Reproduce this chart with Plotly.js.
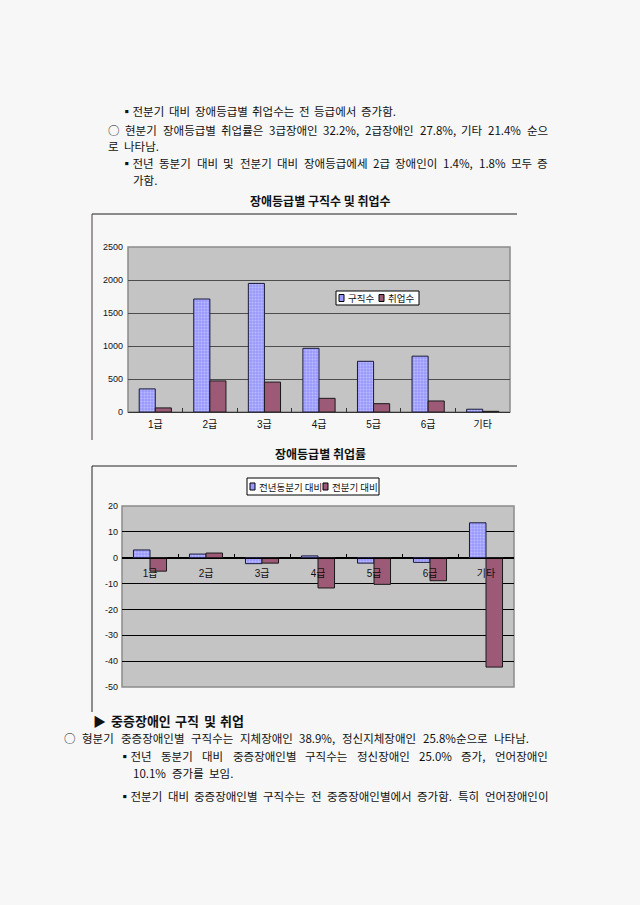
<!DOCTYPE html>
<html><head><meta charset="utf-8">
<script src="https://cdn.plot.ly/plotly-3.0.1.min.js"></script>
<style>html,body{margin:0;padding:0;background:#f7f7f7;}#chart{width:640px;height:905px;}</style>
</head><body><div id="chart"></div>
<script>
// ---------- data ----------
const grades = ['1급','2급','3급','4급','5급','6급','기타'];
const seekers = [350, 1712, 1948, 965, 768, 846, 42];
const employed = [62, 471, 453, 207, 126, 167, 10];
const seriesNames1 = ['구직수','취업수'];
const chart1Title = '장애등급별 구직수 및 취업수';
const y1Ticks = [0, 500, 1000, 1500, 2000, 2500];

const yoyChange = [3.0, 1.4, -2.3, 0.7, -2.1, -1.8, 13.5];
const qoqChange = [-5.2, 1.8, -2.1, -11.7, -10.3, -8.9, -42.3];
const seriesNames2 = ['전년동분기 대비','전분기 대비'];
const chart2Title = '장애등급별 취업률';
const y2Ticks = [20, 10, 0, -10, -20, -30, -40, -50];

const textTop = [
  '▪전분기 대비 장애등급별 취업수는 전 등급에서 증가함.',
  '○ 현분기 장애등급별 취업률은 3급장애인 32.2%, 2급장애인 27.8%, 기타 21.4% 순으',
  '로 나타남.',
  '▪전년 동분기 대비 및 전분기 대비 장애등급에세 2급 장애인이 1.4%, 1.8% 모두 증',
  '가함.'
];
const textBottom = [
  '▶ 중증장애인 구직 및 취업',
  '○ 형분기 중증장애인별 구직수는 지체장애인 38.9%, 정신지체장애인 25.8%순으로 나타남.',
  '▪전년 동분기 대비 중증장애인별 구직수는 정신장애인 25.0% 증가, 언어장애인',
  '10.1% 증가를 보임.',
  '▪전분기 대비 중증장애인별 구직수는 전 중증장애인별에서 증가함. 특히 언어장애인이'
];

// ---------- helpers ----------
const W = 640, H = 905;
const px = x => x / W, py = y => 1 - y / H;
const FAM = '"Noto Sans CJK KR", "Noto Sans", sans-serif';
const TICKFAM = '"Liberation Sans", "Noto Sans CJK KR", sans-serif';
const ctx = document.createElement('canvas').getContext('2d');
function measure(t, size, bold) {
  ctx.font = (bold ? 'bold ' : '') + size + 'px ' + FAM;
  return ctx.measureText(t).width;
}
const annotations = [];
const shapes = [];
// x1 = null -> natural spacing (last line of a paragraph)
function line(t, x0, x1, y, size, bold) {
  const words = t.split(' ');
  const widths = words.map(w => measure(w, size, bold));
  const total = widths.reduce((a, b) => a + b, 0);
  let gap = size * 0.5;
  if (x1 !== null && words.length > 1) gap = (x1 - x0 - total) / (words.length - 1);
  let x = x0;
  words.forEach((w, i) => {
    annotations.push({
      text: bold ? '<b>' + w + '</b>' : w, xref: 'paper', yref: 'paper',
      x: px(x), y: py(y), xanchor: 'left', yanchor: 'middle', showarrow: false,
      borderpad: 0, font: {family: FAM, size: size, color: '#111'}
    });
    x += widths[i] + gap;
  });
}
function label(t, x, y, size, bold, anchor) {
  annotations.push({
    text: bold ? '<b>' + t + '</b>' : t, xref: 'paper', yref: 'paper',
    x: px(x), y: py(y), xanchor: anchor || 'center', yanchor: 'middle', showarrow: false,
    borderpad: 0, font: {family: FAM, size: size, color: '#111'}
  });
}

// ---------- body text ----------
line(textTop[0], 120, 395, 111, 11.5);
line(textTop[1], 107, 547, 130, 11.5);
line(textTop[2], 107, null, 146, 11.5);
line(textTop[3], 120, 547, 163, 11.5);
line(textTop[4], 132, null, 180, 11.5);

line(textBottom[0], 92, 243, 720, 13, true);
line(textBottom[1], 63, 528, 738, 11.5);
line(textBottom[2], 118, 547, 756, 11.5);
line(textBottom[3], 132, null, 773, 11.5);
line(textBottom[4], 118, 547, 796, 11.5);

// ---------- chart titles & frames ----------
label(chart1Title, 320, 200, 12, true);
label(chart2Title, 320, 453, 12, true);
shapes.push({type: 'line', xref: 'paper', yref: 'paper', x0: px(92), x1: px(517), y0: py(214), y1: py(214), line: {color: '#8a8a8a', width: 2}});
shapes.push({type: 'line', xref: 'paper', yref: 'paper', x0: px(92), x1: px(92), y0: py(214), y1: py(440), line: {color: '#4a3a40', width: 1}});
shapes.push({type: 'line', xref: 'paper', yref: 'paper', x0: px(92), x1: px(517), y0: py(466), y1: py(466), line: {color: '#6a6a6a', width: 1.5}});
shapes.push({type: 'line', xref: 'paper', yref: 'paper', x0: px(92), x1: px(92), y0: py(466), y1: py(712), line: {color: '#222', width: 1}});

// ---------- legends (drawn manually, compact like the original) ----------
const colA = '#9999ff', colB = '#9c5a76';
function legend(x0, x1, y0, y1, items) {
  shapes.push({type: 'rect', xref: 'paper', yref: 'paper', x0: px(x0), x1: px(x1), y0: py(y1), y1: py(y0),
    line: {color: '#000', width: 1}, fillcolor: '#fff'});
  const yc = (y0 + y1) / 2;
  items.forEach(it => {
    shapes.push({type: 'rect', xref: 'paper', yref: 'paper', x0: px(it.sx), x1: px(it.sx + 5), y0: py(yc + 3.5), y1: py(yc - 3.5),
      line: {color: '#000', width: 1}, fillcolor: it.color});
    label(it.name, it.sx + 7.5, yc, 9.5, false, 'left');
  });
}
legend(336, 419, 291, 305, [{sx: 339, name: seriesNames1[0], color: colA}, {sx: 379, name: seriesNames1[1], color: colB}]);
legend(247, 379, 478, 495, [{sx: 250, name: seriesNames2[0], color: colA}, {sx: 323, name: seriesNames2[1], color: colB}]);

// ---------- plot areas ----------
const dom1x = [px(128), px(510)], dom1y = [py(412), py(247)];
const dom2x = [px(122), px(514)], dom2y = [py(687), py(506)];
const y2Range = [-50, 20];
const zeroPos = dom2y[0] + (0 - y2Range[0]) / (y2Range[1] - y2Range[0]) * (dom2y[1] - dom2y[0]);

shapes.push({type: 'rect', xref: 'x domain', yref: 'y domain', x0: 0, x1: 1, y0: 0, y1: 1, line: {color: '#8c8c8c', width: 1.5}, layer: 'below'});
shapes.push({type: 'rect', xref: 'x2 domain', yref: 'y2 domain', x0: 0, x1: 1, y0: 0, y1: 1, line: {color: '#8c8c8c', width: 1.5}, layer: 'below'});

const patA = {shape: '.', fillmode: 'overlay', fgcolor: '#dedeff', size: 3, solidity: 0.35};
const traces = [
  {type: 'bar', x: grades, y: seekers, name: seriesNames1[0], xaxis: 'x', yaxis: 'y',
   marker: {color: colA, pattern: patA, line: {color: '#1a1a3a', width: 1}}},
  {type: 'bar', x: grades, y: employed, name: seriesNames1[1], xaxis: 'x', yaxis: 'y',
   marker: {color: colB, line: {color: '#1a1a1a', width: 1}}},
  {type: 'bar', x: grades, y: yoyChange, name: seriesNames2[0], xaxis: 'x2', yaxis: 'y2',
   marker: {color: colA, pattern: patA, line: {color: '#1a1a3a', width: 1}}},
  {type: 'bar', x: grades, y: qoqChange, name: seriesNames2[1], xaxis: 'x2', yaxis: 'y2',
   marker: {color: colB, line: {color: '#1a1a1a', width: 1}}}
];

const tickFont = {family: TICKFAM, size: 9, color: '#111'};
const layout = {
  width: W, height: H, margin: {l: 0, r: 0, t: 0, b: 0},
  paper_bgcolor: '#f7f7f7', plot_bgcolor: '#c4c4c4',
  showlegend: false, barmode: 'group', bargap: 0.41, bargroupgap: 0,
  xaxis: {domain: dom1x, anchor: 'y', type: 'category', showgrid: false, showline: true, linecolor: '#333', linewidth: 1,
    ticks: 'inside', tickson: 'boundaries', ticklen: 4, tickcolor: '#333',
    tickfont: {family: TICKFAM, size: 10, color: '#111'}, ticklabelstandoff: 3, fixedrange: true},
  yaxis: {domain: dom1y, anchor: 'x', range: [0, 2500], tickvals: y1Ticks, ticktext: y1Ticks.map(String),
    showgrid: true, gridcolor: '#4d4d4d', gridwidth: 1, zeroline: false, showline: false, ticks: '',
    tickfont: tickFont, ticklabelstandoff: 4, fixedrange: true},
  xaxis2: {domain: dom2x, anchor: 'free', position: zeroPos, type: 'category', showgrid: false, showline: true, linecolor: '#000', linewidth: 1,
    ticks: 'inside', tickson: 'boundaries', ticklen: 4, tickcolor: '#000',
    tickfont: {family: TICKFAM, size: 10, color: '#111'}, ticklabelstandoff: 6, fixedrange: true},
  yaxis2: {domain: dom2y, anchor: 'x2', range: y2Range, tickvals: y2Ticks, ticktext: y2Ticks.map(String),
    showgrid: true, gridcolor: '#000', gridwidth: 1, zeroline: false, showline: false, ticks: '',
    tickfont: tickFont, ticklabelstandoff: 3, fixedrange: true},
  annotations: annotations, shapes: shapes
};
Plotly.newPlot('chart', traces, layout, {staticPlot: true, displayModeBar: false});
</script></body></html>
